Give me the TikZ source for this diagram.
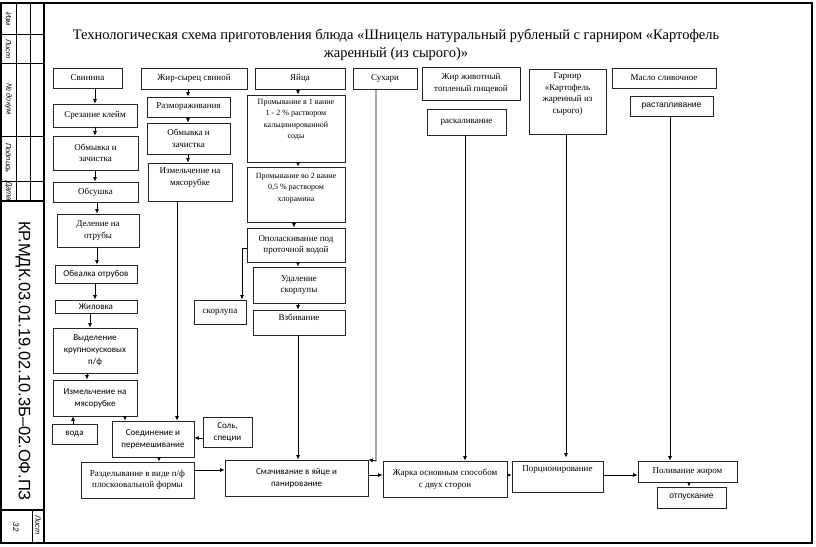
\documentclass[tikz,border=0pt]{standalone}
\usepackage{fontspec}
\setmainfont{Liberation Serif}
\newfontfamily\calfont{Carlito}
\newfontfamily\arialfont{Liberation Sans}
\usetikzlibrary{arrows.meta}
\tikzset{
  box/.style={draw=black!85,line width=0.7pt,inner sep=1pt,align=center,font=\fontsize{9}{11.5}\selectfont},
  txt/.style={inner sep=0pt,align=center,font=\fontsize{9}{11.5}\selectfont},
  cal/.style={font=\calfont\fontsize{9}{12}\selectfont},
  ari/.style={font=\arialfont\fontsize{8.5}{11}\selectfont},
  arr/.style={draw=black,line width=0.8pt,-{Latex[length=4.5pt,width=4pt]}},
  frame/.style={draw=black,line width=1.6pt},
  thin/.style={draw=black,line width=0.8pt},
  stamp/.style={font=\arialfont\itshape\fontsize{7.5}{8}\selectfont,rotate=-90,inner sep=0pt}
}
\newcommand\mybox[7][]{%
  \pgfmathsetmacro\bxcx{(#3+#5)/2}\pgfmathsetmacro\bxcy{(#4+#6)/2}%
  \pgfmathsetmacro\bxw{#5-#3}\pgfmathsetmacro\bxh{#6-#4}%
  \node[box,minimum width=\bxw pt,minimum height=\bxh pt,#1] (#2) at (\bxcx,\bxcy) {#7};}
\begin{document}
\begin{tikzpicture}[x=1pt,y=-1pt]
\useasboundingbox (0,0) rectangle (816,546);
% frame
\draw[frame] (1,3) rectangle (812,543);
\draw[frame] (44,3) -- (44,543);
\draw[thin] (16,3) -- (16,201) (30,3) -- (30,201);
\foreach \yy in {34,63,136,181} {\draw[thin] (1,\yy) -- (44,\yy);}
\draw[frame] (1,201) -- (44,201);
\draw[frame] (1,510) -- (44,510);
\draw[thin] (32,510) -- (32,543);
\node[stamp] (st1) at (8.5,19) {Изм};
\node[stamp] (st2) at (8.5,49) {Лист};
\node[stamp] (st3) at (8.5,99) {№ докум};
\node[stamp] (st4) at (8.5,158) {Подпись};
\node[stamp] (st5) at (8.5,191) {Дата};
\node[stamp] (st6) at (38,525) {Лист};
\node[stamp,font=\arialfont\itshape\fontsize{8}{9}\selectfont] (st7) at (16,527) {32};
\node[rotate=-90,inner sep=0pt,font=\arialfont\fontsize{16.5}{18}\selectfont] (code) at (23,361) {КР.МДК.03.01.19.02.10.3Б–02.ОФ.ПЗ};
% title
\node[inner sep=0pt,align=center,font=\fontsize{14.5}{17.5}\selectfont] (title) at (396,45) {Технологическая схема приготовления блюда «Шницель натуральный рубленый с гарниром «Картофель\\жаренный (из сырого)»};
% column 1
\mybox{s1}{53}{68}{122}{88}{Свинина}
\mybox{s2}{53}{104}{137}{127}{Срезание клейм}
\mybox{s3}{53}{136}{138}{170}{Обмывка и\\зачистка}
\mybox{s4}{53}{182}{138}{202}{Обсушка}
\mybox{s5}{57}{214}{139}{247}{Деление на\\отрубы}
\mybox[cal]{s6}{55}{265}{137}{283}{Обвалка отрубов}
\mybox[cal]{s7}{55}{300}{137}{313}{Жиловка}
\mybox[cal]{s8}{53}{328}{137}{373}{Выделение\\крупнокусковых\\п/ф}
\mybox[cal]{s9}{53}{380}{137}{416}{Измельчение на\\мясорубке}
\mybox[cal]{w}{52}{424}{97}{444}{вода}
\mybox[cal]{m}{112}{421}{194}{457}{Соединение и\\перемешивание}
\mybox[cal]{sol}{203}{417}{252}{447}{Соль,\\специи}
\mybox{r}{81}{462}{194}{498}{Разделывание в виде п/ф\\плоскоовальной формы}
\mybox[cal]{sm}{225}{460}{368}{496}{Смачивание в яйце и\\панирование}
\mybox{zh}{383}{461}{507}{497}{Жарка основным способом\\с двух сторон}
\mybox{p}{512}{461}{603}{492}{}
\node[txt,anchor=north] (pt) at ([yshift=-5pt]p.north) {Порционирование};
\mybox{pl}{638}{461}{737}{482}{Поливание жиром}
\mybox[ari]{ot}{657}{487}{726}{508}{отпускание}
% column 2
\mybox{f1}{141}{68}{247}{89}{Жир-сырец свиной}
\mybox{f2}{147}{97}{230}{117}{Размораживания}
\mybox{f3}{147}{123}{230}{154}{Обмывка и\\зачистка}
\mybox{f4}{148}{163}{232}{201}{}
\node[txt,anchor=north] (f4t) at ([yshift=-5pt]f4.north) {Измельчение на\\мясорубке};
% column 3
\mybox{e1}{255}{68}{345}{89}{Яйца}
\mybox{e2}{247}{95}{345}{162}{}
\node[txt,anchor=north,font=\fontsize{8}{11.5}\selectfont] (e2t) at ([yshift=-4pt]e2.north) {Промывание в 1 ванне\\1 - 2 \% раствором\\кальцинированной\\соды};
\mybox{e3}{247}{167}{345}{222}{}
\node[txt,anchor=north,font=\fontsize{8}{11.5}\selectfont] (e3t) at ([yshift=-6pt]e3.north) {Промывание во 2 ванне\\0,5 \% раствором\\хлорамина};
\mybox{e4}{247}{228}{345}{262}{Ополаскивание под\\проточной водой}
\mybox{e5}{253}{267}{345}{303}{Удаление\\скорлупы}
\mybox{e6}{253}{310}{345}{335}{}
\node[txt,anchor=north] (e6t) at ([yshift=-4pt]e6.north) {Взбивание};
\mybox{sk}{194}{300}{246}{324}{скорлупа}
% other columns
\mybox{su}{353}{68}{417}{89}{Сухари}
\mybox{j1}{422}{67}{520}{100}{Жир животный\\топленый пищевой}
\mybox{j2}{427}{109}{506}{135}{раскаливание}
\mybox{g}{529}{69}{606}{134}{}
\node[txt,anchor=north] (gt) at ([yshift=-4pt]g.north) {Гарнир\\«Картофель\\жаренный из\\сырого)};
\mybox{b1}{612}{68}{716}{88}{Масло сливочное}
\mybox[ari]{b2}{630}{96}{713}{116}{растапливание}
% connector x positions
\coordinate (x95) at (95,0);
\coordinate (x97) at (97,0);
\coordinate (x90) at (90,0);
\coordinate (x87) at (87,0);
\coordinate (x73) at (73,0);
\coordinate (x125) at (125,0);
\coordinate (x159) at (159,0);
\coordinate (x188) at (188,0);
\coordinate (x177) at (177,0);
\coordinate (x298) at (298,0);
\coordinate (x294) at (294,0);
\coordinate (x465) at (465,0);
\coordinate (x566) at (566,0);
\coordinate (x670) at (670,0);
\coordinate (x689) at (689,0);
\coordinate (y438) at (0,438);
\coordinate (y470) at (0,470);
\coordinate (y475) at (0,475);
% column 1 connectors
\draw[arr] (s1.south -| x95) -- (s2.north -| x95);
\draw[arr] (s2.south -| x95) -- (s3.north -| x95);
\draw[arr] (s3.south -| x95) -- (s4.north -| x95);
\draw[arr] (s4.south -| x97) -- (s5.north -| x97);
\draw[arr] (s5.south -| x97) -- (s6.north -| x97);
\draw[arr] (s6.south -| x95) -- (s7.north -| x95);
\draw[arr] (s7.south -| x90) -- (s8.north -| x90);
\draw[arr] (s8.south -| x87) -- (s9.north -| x87);
\draw[arr] (w.north -| x73) -- (s9.south -| x73);
\draw[arr] (s9.south -| x125) -- (m.north -| x125);
\draw[arr] (sol.west |- y438) -- (m.east |- y438);
\draw[arr] (m.south -| x159) -- (r.north -| x159);
\draw[arr] (r.east |- y470) -- (sm.west |- y470);
\draw[arr] (sm.east |- y475) -- (zh.west |- y475);
\draw[arr] (zh.east |- y475) -- (p.west |- y475);
\draw[arr] (p.east |- y475) -- (pl.west |- y475);
\draw[arr] (pl.south -| x689) -- (ot.north -| x689);
% column 2
\draw[arr] (f1.south -| x188) -- (f2.north -| x188);
\draw[arr] (f2.south -| x188) -- (f3.north -| x188);
\draw[arr] (f3.south -| x188) -- (f4.north -| x188);
\draw[arr] (f4.south -| x177) -- (m.north -| x177);
% column 3
\draw[arr] (e1.south -| x298) -- (e2.north -| x298);
\draw[arr] (e2.south -| x298) -- (e3.north -| x298);
\draw[arr] (e3.south -| x294) -- (e4.north -| x294);
\draw[arr] (e4.south -| x298) -- (e5.north -| x298);
\draw[arr] (e5.south -| x298) -- (e6.north -| x298);
\draw[arr] (e6.south -| x298) -- (sm.north -| x298);
\coordinate (k1) at (242,248);
\draw[arr] (k1 -| e4.west) -- (k1) -- (k1 |- sk.north);
\coordinate (k2) at (376,461);
\draw[arr] (su.south -| k2) -- (k2) -- (sm.north east);
\draw[arr] (j2.south -| x465) -- (zh.north -| x465);
\draw[arr,shorten >=3pt] (g.south -| x566) -- (p.north -| x566);
\draw[arr] (b2.south -| x670) -- (pl.north -| x670);
\end{tikzpicture}
\end{document}
